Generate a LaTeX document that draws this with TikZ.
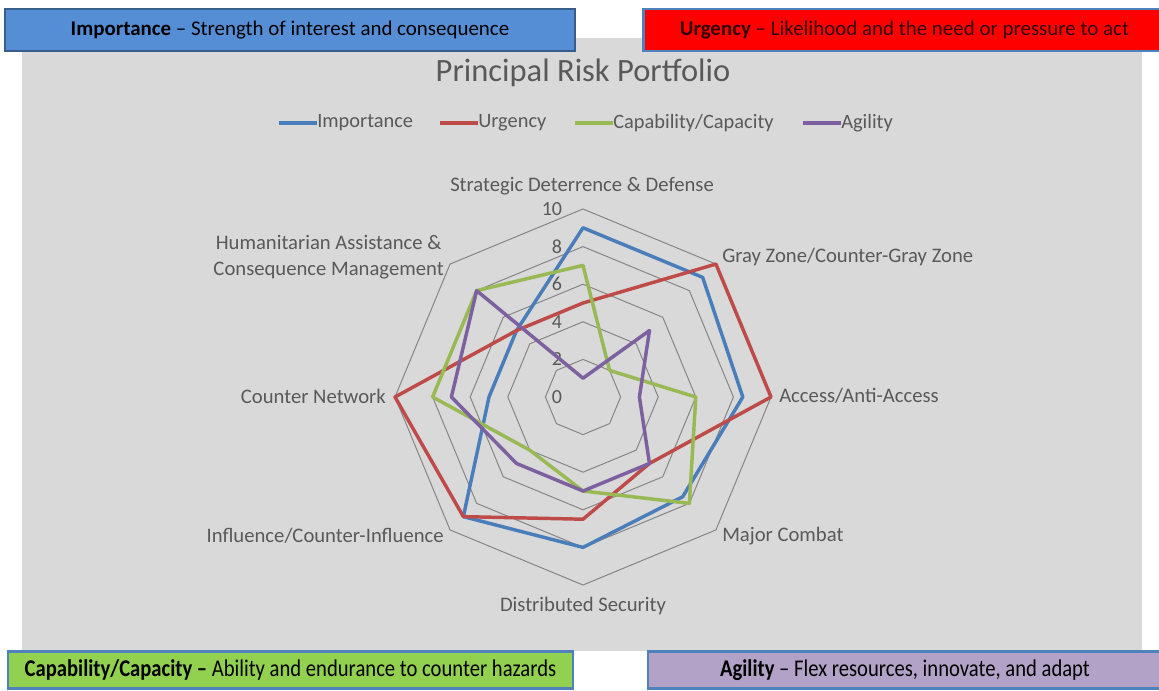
\documentclass[tikz,border=0pt]{standalone}
\usepackage{fontspec}
\setmainfont{Carlito}
\newfontfamily\narrowfont[FakeStretch=0.86, Ligatures=TeX]{Carlito}

\definecolor{plotbg}{HTML}{D9D9D9}
\definecolor{gridgray}{HTML}{868686}
\definecolor{labelgray}{HTML}{595959}
\definecolor{impblue}{HTML}{4A7EBB}
\definecolor{urgred}{HTML}{BE4B48}
\definecolor{capgreen}{HTML}{98B954}
\definecolor{agipurple}{HTML}{7D60A0}
\definecolor{boxblue}{HTML}{558ED5}
\definecolor{boxedge}{HTML}{4F81BD}
\definecolor{darkedge}{HTML}{385D8A}
\definecolor{boxgreen}{HTML}{92D050}
\definecolor{boxlilac}{HTML}{B3A2C7}
\definecolor{urgtext}{HTML}{300000}

\tikzset{
  infobox/.style={draw=boxedge, line width=2.2pt, inner sep=0pt, text=black,
    font=\fontsize{15.7pt}{18pt}\selectfont},
  axislabel/.style={text=labelgray, inner sep=0pt, font=\fontsize{15.5pt}{19.5pt}\selectfont},
  ticklabel/.style={text=labelgray, inner sep=0pt, anchor=east, font=\fontsize{15pt}{17pt}\selectfont},
  legendtext/.style={text=labelgray, inner sep=0pt, anchor=west, font=\fontsize{15.3pt}{17pt}\selectfont},
  legendline/.style={line width=2.6pt},
  gridline/.style={gridgray, line width=0.75pt},
  series/.style={line width=2.6pt, line join=round}
}

\begin{document}
\begin{tikzpicture}[x=0.75pt, y=0.75pt]
  \useasboundingbox (0,0) rectangle (1159,690);

  % chart area
  \fill[plotbg] (22,39) rectangle (1142,652);
  \node[text=labelgray, font=\fontsize{24.4pt}{27pt}\selectfont] (title) at (583,617) {Principal Risk Portfolio};

  % legend
  \node[legendtext] (legimp) at (317,567) {Importance};
  \node[legendtext] (legurg) at (478,567) {Urgency};
  \node[legendtext] (legcap) at (613,567) {Capability/Capacity};
  \node[legendtext] (legagi) at (841,567) {Agility};
  \draw[legendline, impblue] (legimp.west) -- ++(-38,0);
  \draw[legendline, urgred] (legurg.west) -- ++(-38,0);
  \draw[legendline, capgreen] (legcap.west) -- ++(-38,0);
  \draw[legendline, agipurple] (legagi.west) -- ++(-38,0);

  % radar grid and series
  \begin{scope}[shift={(583,293)}, x=14.1pt, y=14.1pt]
    \foreach \r in {2,4,...,10}
      \draw[gridline] (90:\r) \foreach \a in {1,...,7} { -- (90-45*\a:\r) } -- cycle;
    \foreach \v in {0,2,...,10}
      \node[ticklabel] (tick\v) at (-1.1,\v) {\v};

    \draw[series, impblue] (90:9) -- (45:9) -- (0:8.5) -- (-45:7.5) -- (-90:8) -- (-135:9) -- (180:5) -- (135:5) -- cycle;
    \draw[series, urgred] (90:5) -- (45:10) -- (0:10) -- (-45:5) -- (-90:6.5) -- (-135:9) -- (180:10) -- (135:5) -- cycle;
    \draw[series, capgreen] (90:7) -- (45:2) -- (0:6) -- (-45:8) -- (-90:5) -- (-135:4) -- (180:8) -- (135:8) -- cycle;
    \draw[series, agipurple] (90:1) -- (45:5) -- (0:3) -- (-45:5) -- (-90:5) -- (-135:5) -- (180:7) -- (135:8) -- cycle;
  \end{scope}

  % axis labels
  \node[axislabel] (strat) at (582,504) {Strategic Deterrence \& Defense};
  \node[axislabel, anchor=west] (gray) at (722,433) {Gray Zone/Counter-Gray Zone};
  \node[axislabel, anchor=west] (access) at (779,294) {Access/Anti-Access};
  \node[axislabel, anchor=west] (combat) at (722,154) {Major Combat};
  \node[axislabel] (distsec) at (583,84) {Distributed Security};
  \node[axislabel, anchor=east] (influ) at (444,154) {Influence/Counter-Influence};
  \node[axislabel, anchor=east] (network) at (386,294) {Counter Network};
  \node[axislabel, anchor=east, align=center] (human) at (444,433) {Humanitarian Assistance \&\\Consequence Management};

  % definition boxes
  \node[infobox, draw=darkedge, fill=boxblue, minimum width=427.5pt, minimum height=31.5pt] (impbox) at (290,660)
    {\textbf{Importance} – Strength of interest and consequence};
  \node[infobox, fill=red, text=urgtext, minimum width=391pt, minimum height=31.5pt] (urgbox) at (904.5,660)
    {\textbf{Urgency} – Likelihood and the need or pressure to act};
  \node[infobox, fill=boxgreen, minimum width=423.75pt, minimum height=27.75pt, font=\narrowfont\fontsize{18pt}{20pt}\selectfont] (capbox) at (290.5,20)
    {\textbf{Capability/Capacity –} Ability and endurance to counter hazards};
  \node[infobox, fill=boxlilac, minimum width=385.5pt, minimum height=27.75pt, font=\narrowfont\fontsize{18pt}{20pt}\selectfont] (agibox) at (905,20)
    {\textbf{Agility} – Flex resources, innovate, and adapt};
\end{tikzpicture}
\end{document}
